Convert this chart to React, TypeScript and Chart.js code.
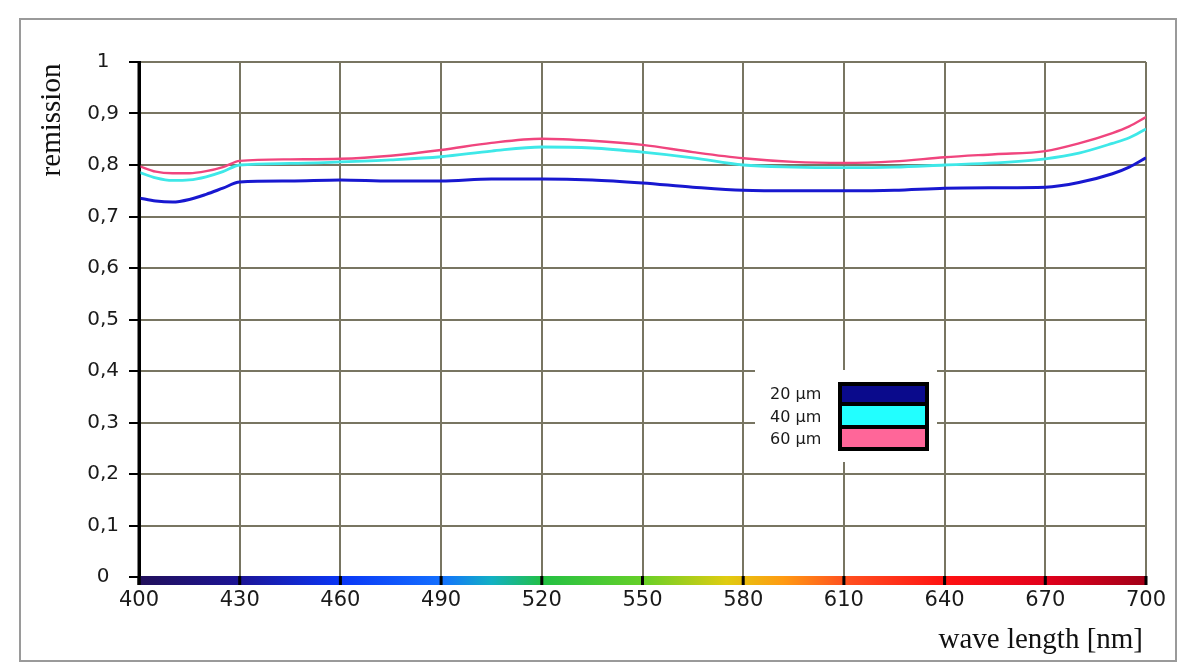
import React, { useEffect, useRef } from 'react';
import { Chart, registerables } from 'chart.js';

Chart.register(...registerables);

// wavelength samples (nm)
const wavelengths = [400, 405, 410, 415, 420, 425, 430, 445, 460, 475, 490, 505, 520, 535, 550, 565, 580, 595, 610, 625, 640, 655, 670, 680, 690, 695, 700];
// remission per layer thickness
const series20 = [0.736, 0.730, 0.728, 0.733, 0.743, 0.755, 0.767, 0.769, 0.771, 0.769, 0.769, 0.773, 0.773, 0.771, 0.765, 0.757, 0.751, 0.750, 0.750, 0.751, 0.755, 0.756, 0.757, 0.766, 0.783, 0.796, 0.814];
const series40 = [0.786, 0.775, 0.770, 0.771, 0.777, 0.787, 0.800, 0.803, 0.806, 0.810, 0.816, 0.827, 0.835, 0.833, 0.825, 0.814, 0.800, 0.796, 0.795, 0.796, 0.800, 0.804, 0.812, 0.823, 0.842, 0.853, 0.870];
const series60 = [0.798, 0.787, 0.784, 0.784, 0.788, 0.796, 0.808, 0.811, 0.812, 0.818, 0.829, 0.843, 0.851, 0.847, 0.839, 0.825, 0.813, 0.806, 0.804, 0.807, 0.815, 0.821, 0.827, 0.842, 0.862, 0.875, 0.893];
const seriesLabels = ['20 µm', '40 µm', '60 µm'];
const lineColors = ['#1818d0', '#3ee8e8', '#f0457e'];
const legendColors = ['#0a0a8c', '#22ffff', '#ff6699'];
const xTickValues = [400, 430, 460, 490, 520, 550, 580, 610, 640, 670, 700];
const spectrumWl = [400, 430, 460, 490, 505, 520, 550, 575, 592, 610, 640, 670, 700];
const spectrumColors = ['#22105a', '#1c1496', '#0a36f6', '#1470ff', '#12b0c4', '#22c044', '#66d028', '#e0cc10', '#ff9a12', '#ff5220', '#ff1212', '#e2001c', '#a20018'];

const xTitle = 'wave length [nm]';
const yTitle = 'remission';

export default function App() {
  const ref = useRef<HTMLCanvasElement>(null);

  useEffect(() => {
    document.body.style.margin = '0';
    const canvas = ref.current!;

    const decor = {
      id: 'decor',
      beforeDraw(chart: any) {
        const ctx = chart.ctx;
        ctx.save();
        ctx.fillStyle = '#ffffff';
        ctx.fillRect(0, 0, chart.width, chart.height);
        ctx.strokeStyle = '#9a9a9a';
        ctx.lineWidth = 2;
        ctx.strokeRect(20, 19, 1156, 642);
        ctx.restore();
      },
      afterDraw(chart: any) {
        const ctx = chart.ctx;
        const xs = chart.scales.x;
        const ys = chart.scales.y;
        const left = xs.getPixelForValue(400);
        const right = xs.getPixelForValue(700);
        const y0 = ys.getPixelForValue(0);
        ctx.save();
        // spectrum bar
        const g = ctx.createLinearGradient(left, 0, right, 0);
        spectrumWl.forEach((w, i) => g.addColorStop((w - 400) / 300, spectrumColors[i]));
        ctx.fillStyle = g;
        ctx.fillRect(left, y0 - 1, right - left, 9);
        ctx.fillStyle = '#000';
        xTickValues.forEach((v) => {
          const px = xs.getPixelForValue(v);
          ctx.fillRect(px - 1.5, y0 - 1, 3, 9);
        });
        // y axis line
        ctx.fillRect(left - 1.5, ys.getPixelForValue(1), 3, y0 - ys.getPixelForValue(1) + 8);

        // legend
        const lx = 838, ly = 382, lw = 91, lh = 69;
        ctx.fillStyle = '#ffffff';
        ctx.fillRect(755, 370, 182, 92);
        ctx.fillStyle = '#000';
        ctx.fillRect(lx, ly, lw, lh);
        const bars = [[386, 16], [406, 19], [429, 18]];
        bars.forEach(([by, bh], i) => {
          ctx.fillStyle = legendColors[i];
          ctx.fillRect(lx + 4, by, lw - 8, bh);
        });
        ctx.fillStyle = '#1a1a1a';
        ctx.font = '16px "DejaVu Sans"';
        ctx.textAlign = 'left';
        ctx.textBaseline = 'middle';
        const ty = [395, 418, 440];
        seriesLabels.forEach((s, i) => ctx.fillText(s, 770, ty[i]));

        // titles
        ctx.fillStyle = '#111';
        ctx.font = '29px "Liberation Serif"';
        ctx.textAlign = 'right';
        ctx.textBaseline = 'alphabetic';
        ctx.fillText(xTitle, 1143, 648);
        ctx.translate(52, 120);
        ctx.rotate(-Math.PI / 2);
        ctx.textAlign = 'center';
        ctx.textBaseline = 'middle';
        ctx.fillText(yTitle, 0, 0);
        ctx.restore();
      },
    };

    const widths = [3, 2.8, 2.4];
    const mk = (vals: number[], i: number) => ({
      label: seriesLabels[i],
      data: wavelengths.map((w, k) => ({ x: w, y: vals[k] })),
      borderColor: lineColors[i],
      backgroundColor: lineColors[i],
      borderWidth: widths[i],
      pointRadius: 0,
      cubicInterpolationMode: 'monotone' as const,
      fill: false,
    });

    const chart = new Chart(canvas, {
      type: 'line',
      data: { datasets: [mk(series20, 0), mk(series40, 1), mk(series60, 2)] },
      options: {
        animation: false,
        responsive: false,
        devicePixelRatio: 1,
        layout: { padding: { left: 0, top: 62, right: 44, bottom: 0 } },
        plugins: { legend: { display: false }, tooltip: { enabled: false } },
        scales: {
          x: {
            type: 'linear',
            min: 400,
            max: 700,
            afterBuildTicks: (s: any) => { s.ticks = xTickValues.map((v) => ({ value: v })); },
            afterFit: (s: any) => { s.height = 95; },
            ticks: {
              color: '#1a1a1a',
              font: { family: '"DejaVu Sans"', size: 21 },
              padding: 3,
              maxRotation: 0,
              autoSkip: false,
            },
            grid: { color: '#787562', lineWidth: 2, tickLength: 8, tickColor: '#000' },
            border: { display: false },
          },
          y: {
            type: 'linear',
            min: 0,
            max: 1,
            afterFit: (s: any) => { s.width = 139; },
            ticks: {
              stepSize: 0.1,
              color: '#1a1a1a',
              font: { family: '"DejaVu Sans"', size: 20 },
              padding: 10,
              crossAlign: 'center',
              callback: (v: any) => {
                const n = Math.round(Number(v) * 10) / 10;
                if (n === 0) return '0';
                if (n === 1) return '1';
                return n.toFixed(1).replace('.', ',');
              },
            },
            grid: { color: '#787562', lineWidth: 2, tickLength: 10, tickColor: '#000' },
            border: { display: true, color: '#000', width: 3 },
          },
        },
      },
      plugins: [decor],
    });
    return () => chart.destroy();
  }, []);

  return (
    <div style={{ width: 1190, height: 672 }}>
      <canvas ref={ref} width={1190} height={672} style={{ display: 'block' }} />
    </div>
  );
}
